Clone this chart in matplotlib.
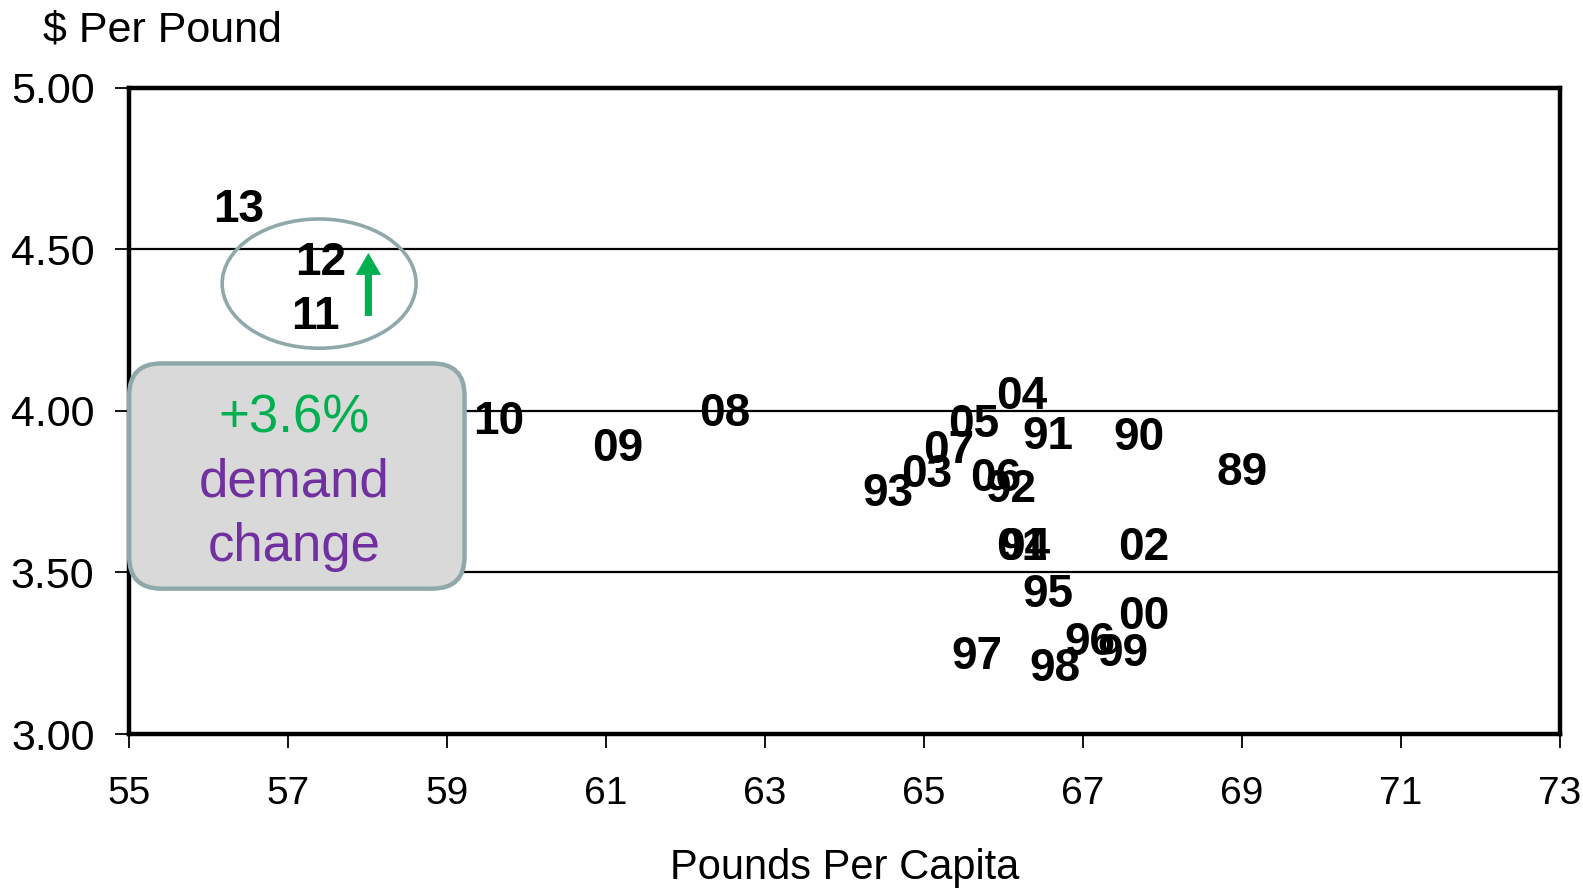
import matplotlib
matplotlib.use("Agg")
import matplotlib.pyplot as plt
import matplotlib.transforms as mtransforms
from matplotlib.patches import Ellipse, FancyBboxPatch, FancyArrow

# Per-capita consumption vs. price, labelled by year
years = ["89", "90", "91", "92", "93", "94", "95", "96", "97", "98", "99",
         "00", "01", "02", "03", "04", "05", "06", "07", "08", "09", "10",
         "11", "12", "13"]
pounds_per_capita = [69.00, 67.70, 66.56, 66.10, 64.55, 66.27, 66.56, 67.09, 65.66, 66.65, 67.50,
                     67.77, 66.23, 67.77, 65.04, 66.23, 65.63, 65.90, 65.31, 62.49, 61.15, 59.65,
                     57.34, 57.41, 56.38]
price_per_pound = [3.816, 3.925, 3.930, 3.766, 3.753, 3.584, 3.440, 3.290, 3.247, 3.210, 3.256,
                   3.370, 3.584, 3.584, 3.810, 4.053, 3.966, 3.800, 3.884, 4.000, 3.890, 3.975,
                   4.300, 4.466, 4.630]

x_ticks = [55, 57, 59, 61, 63, 65, 67, 69, 71, 73]
y_ticks = [3.00, 3.50, 4.00, 4.50, 5.00]

callout_lines = ["+3.6%", "demand", "change"]
callout_colors = ["#00B050", "#7030A0", "#7030A0"]

plt.rcParams["font.family"] = ["Liberation Sans", "DejaVu Sans"]

fig = plt.figure(figsize=(15.83, 8.88), dpi=100)
ax = fig.add_axes([0.0816, 0.1734, 0.9037, 0.7277])
ax.set_xlim(55, 73)
ax.set_ylim(3.0, 5.0)

for s in ax.spines.values():
    s.set_linewidth(3.2)
    s.set_color("black")

ax.set_xticks(x_ticks)
ax.set_yticks(y_ticks)
ax.set_xticklabels([str(v) for v in x_ticks], fontsize=28)
ax.set_yticklabels([f"{v:.2f}" for v in y_ticks], fontsize=31)
ax.tick_params(axis="both", direction="out", length=10, width=1.3, color="black")
ax.tick_params(axis="x", pad=20)
ax.tick_params(axis="y", pad=15)

for g in [3.5, 4.0, 4.5]:
    ax.axhline(g, color="black", lw=1.6, zorder=1)

label_tf = ax.transData + mtransforms.ScaledTranslation(0, -3 / 100, fig.dpi_scale_trans)
for yr, xv, yv in zip(years, pounds_per_capita, price_per_pound):
    ax.text(xv, yv, yr, ha="center", va="center", fontsize=33, fontweight="bold",
            color="black", zorder=3, transform=label_tf)

ax.set_xlabel("Pounds Per Capita", fontsize=30, labelpad=26)
fig.text(0.027, 0.966, "$ Per Pound", fontsize=31, ha="left", va="center")

edge = "#8FA8AA"

# Highlight around the 2011-2012 points
ax.add_patch(Ellipse((57.39, 4.394), 2.44, 0.40, fill=False, ec=edge, lw=2.6,
                     zorder=4, clip_on=False))
ax.add_patch(FancyArrow(58.01, 4.294, 0, 0.195, width=0.09, head_width=0.32,
                        head_length=0.068, length_includes_head=True,
                        color="#00B050", lw=0, zorder=5))

# Rounded callout box, corners kept circular in screen space
fig.canvas.draw()
bb = ax.get_window_extent()
x_per_px = 18.0 / bb.width
y_per_px = 2.0 / bb.height
aspect = y_per_px / x_per_px
box = FancyBboxPatch((55.0, 3.45), 4.22, 0.697,
                     boxstyle=f"round,pad=0,rounding_size={32 * x_per_px:.4f}",
                     mutation_aspect=aspect, fc="#D9D9D9", ec=edge, lw=3.2,
                     zorder=6, clip_on=False)
ax.add_patch(box)
for txt, col, yv in zip(callout_lines, callout_colors, [3.975, 3.778, 3.578]):
    ax.text(57.08, yv, txt, ha="center", va="center", fontsize=38, color=col,
            zorder=7, clip_on=False)

fig.savefig("out.png", dpi=100)
